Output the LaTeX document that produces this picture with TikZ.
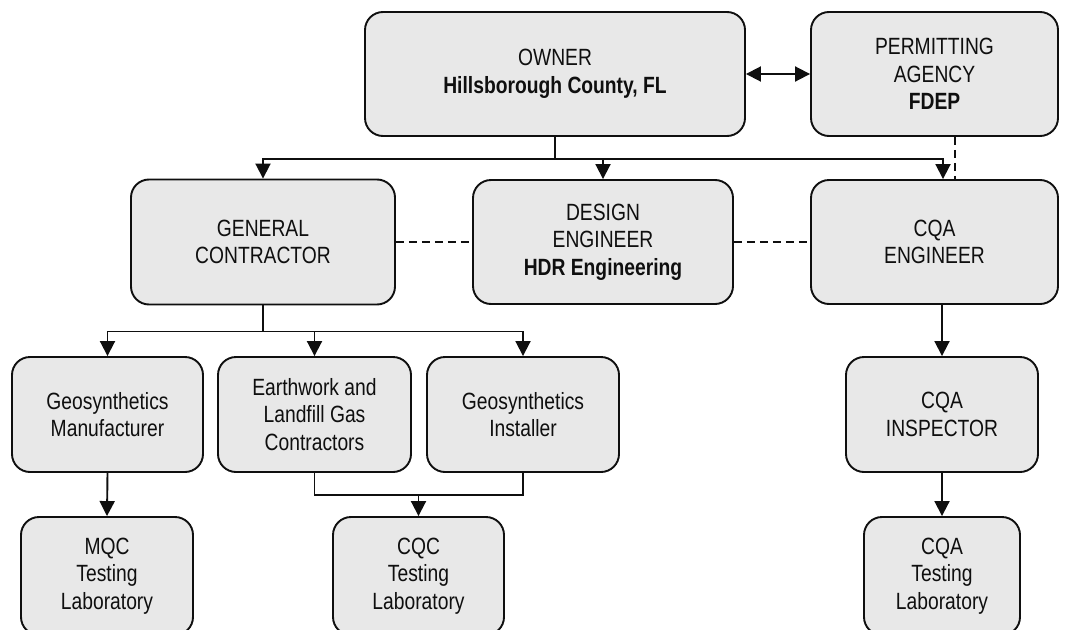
\documentclass[tikz,border=0pt]{standalone}
\usepackage{fontspec}
\setmainfont[FakeStretch=0.82]{Liberation Sans}
\usetikzlibrary{arrows.meta,calc}
\definecolor{boxfill}{RGB}{232,232,232}
\definecolor{ink}{RGB}{15,15,15}
\begin{document}
\begin{tikzpicture}[x=1pt,y=-1pt,
  box/.style={draw=ink, line width=1.9pt, fill=boxfill, rounded corners=18pt,
    align=center, text=ink, inner sep=0pt,
    font=\fontsize{23.5}{27.5}\selectfont},
  link/.style={draw=ink, line width=1.9pt},
  arr/.style={link, -{Triangle[width=15pt,length=15pt]}},
  dblarr/.style={link, {Triangle[width=15pt,length=15pt]}-{Triangle[width=15pt,length=15pt]}},
  dashlink/.style={link, dash pattern=on 8pt off 5pt}]
\useasboundingbox (0,0) rectangle (1065,629);
\clip (0,0) rectangle (1065,629);
% row 1
\node[box, minimum width=380pt, minimum height=124pt] (owner) at (555,74)
  {OWNER\\\textbf{Hillsborough County, FL}};
\node[box, minimum width=247pt, minimum height=124pt] (permit) at (934.5,74)
  {PERMITTING\\AGENCY\\\textbf{FDEP}};
% row 2
\node[box, minimum width=264pt, minimum height=125pt] (gc) at (263,242)
  {GENERAL\\CONTRACTOR};
\node[box, minimum width=260pt, minimum height=124pt] (design) at (603,242)
  {DESIGN\\ENGINEER\\\textbf{HDR Engineering}};
\node[box, minimum width=247pt, minimum height=124pt] (cqa) at (934.5,242)
  {CQA\\ENGINEER};
% row 3
\node[box, minimum width=191pt, minimum height=115pt] (geo) at (107.5,414.5)
  {Geosynthetics\\Manufacturer};
\node[box, minimum width=193pt, minimum height=115pt] (earth) at (314.5,414.5)
  {Earthwork and\\Landfill Gas\\Contractors};
\node[box, minimum width=192pt, minimum height=115pt] (inst) at (523,414.5)
  {Geosynthetics\\Installer};
\node[box, minimum width=192pt, minimum height=115pt] (insp) at (942,414.5)
  {CQA\\INSPECTOR};
% row 4 (cut off at the bottom edge)
\node[box, minimum width=172pt, minimum height=118pt] (mqc) at (107,576)
  {MQC\\Testing\\Laboratory};
\node[box, minimum width=171pt, minimum height=118pt] (cqc) at (418.5,576)
  {CQC\\Testing\\Laboratory};
\node[box, minimum width=156pt, minimum height=118pt] (cqalab) at (942,576)
  {CQA\\Testing\\Laboratory};
% connectors
\draw[dblarr] (owner.east) -- (permit.west);
\coordinate (j1) at ($(owner.south)+(0,22)$);
\draw[link] (owner.south) -- (j1);
\draw[arr] (j1) -| (gc.north);
\draw[arr] (j1) -| (design.north);
\coordinate (cqain) at ($(cqa.north)+(8.5,0)$);
\draw[arr] (j1) -| (cqain);
\draw[dashlink] ($(permit.south)+(20.5,0)$) -- ($(cqa.north)+(20.5,0)$);
\draw[dashlink] (gc.east) -- (design.west);
\draw[dashlink] (design.east) -- (cqa.west);
\coordinate (j2) at ($(gc.south)+(0,26)$);
\draw[link] (gc.south) -- (j2);
\draw[arr] (j2) -| (geo.north);
\draw[arr] (j2) -| (earth.north);
\draw[arr] (j2) -| (inst.north);
\draw[arr] (geo.south) -- (mqc.north);
\coordinate (j3) at ($(earth.south)+(0,22)$);
\draw[link] (earth.south) -- (j3) -| (inst.south);
\draw[arr] (j3 -| cqc.north) -- (cqc.north);
\draw[arr] (cqa.south -| insp.north) -- (insp.north);
\draw[arr] (insp.south) -- (cqalab.north);
\end{tikzpicture}
\end{document}
